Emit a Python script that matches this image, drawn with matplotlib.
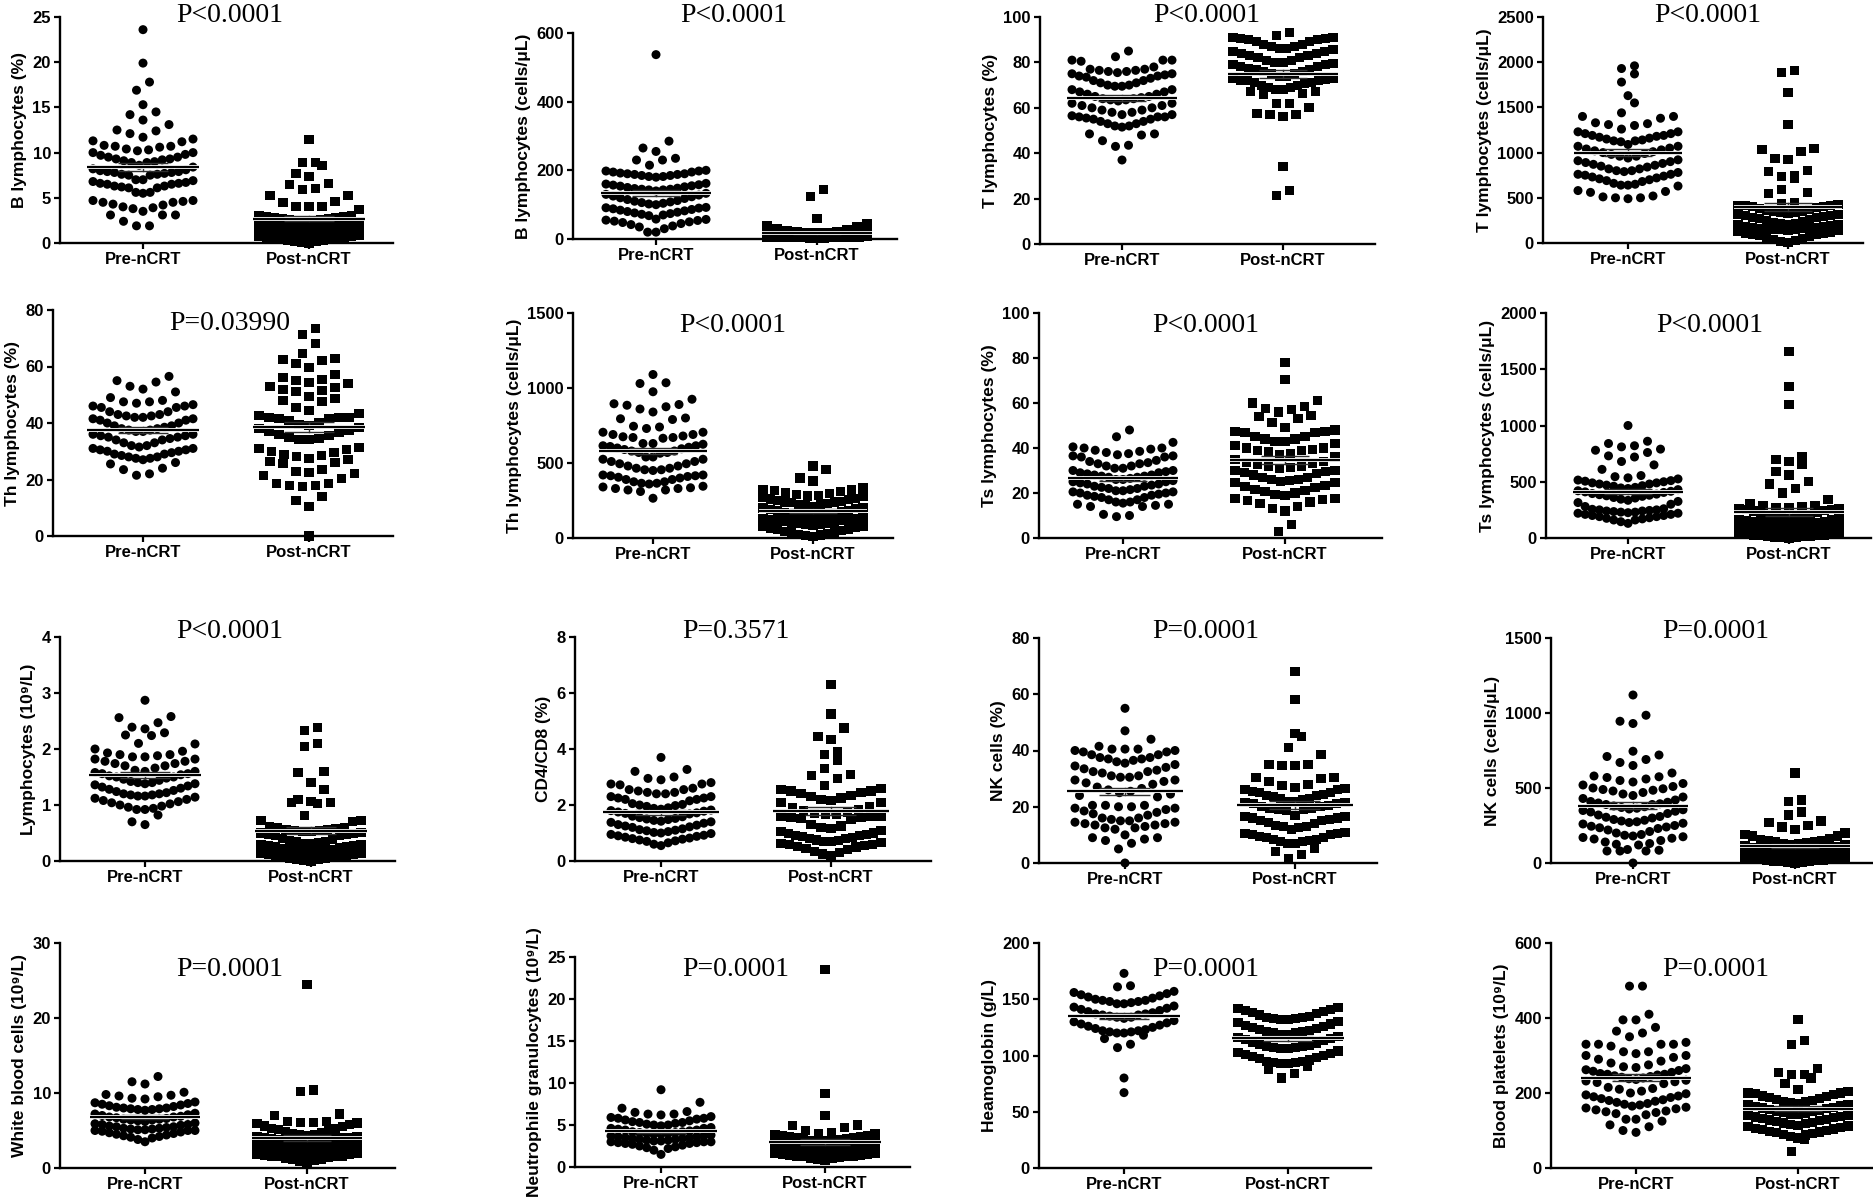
import numpy as np
import matplotlib
matplotlib.use("Agg")
import matplotlib.pyplot as plt
import matplotlib.patheffects as pe
from matplotlib.ticker import FormatStrFormatter

plt.rcParams['font.family'] = ['Liberation Sans', 'DejaVu Sans']
plt.rcParams['font.weight'] = 'bold'

groups = ['Pre-nCRT', 'Post-nCRT']

# ---- values (one list per group) ----
b_pct_pre = [23.6, 19.9, 17.8, 16.9, 15.3, 14.5, 14.2, 13.6, 13.1, 12.5, 12.4, 12.1,
             11.7, 11.5, 11.3, 11.2, 10.8, 10.7, 10.7, 10.6, 10.4, 10.3,
             10.2, 10.0, 10.0, 9.8, 9.7, 9.5, 9.5, 9.3, 9.3, 9.2, 9.1, 9.0, 8.9, 8.9,
             8.6, 8.4, 8.2, 8.1, 8.0, 7.9, 7.9, 7.8, 7.8, 7.7, 7.6, 7.6, 7.5, 7.5,
             7.0, 7.0, 6.9, 6.8, 6.7, 6.6, 6.6, 6.5, 6.5, 6.3, 6.3, 6.2, 6.1, 6.1,
             5.6, 5.6, 5.5, 4.7, 4.7, 4.6, 4.5, 4.5, 4.3, 4.2, 4.0, 3.9, 3.8, 3.5,
             3.1, 3.1, 3.1, 2.4, 1.9, 1.9]
b_pct_post = [11.4, 8.9, 8.9, 8.6, 7.7, 7.4, 6.6, 6.5, 6.0, 5.9, 5.3, 5.2, 4.6, 4.5, 4.0, 4.0, 4.0, 3.7,
              3.0, 3.0, 2.9, 2.9, 2.8, 2.8, 2.7, 2.7, 2.6, 2.6, 2.5, 2.5, 2.4, 2.4, 2.3, 2.3, 2.2,
              1.9, 1.9, 1.8, 1.8, 1.7, 1.7, 1.6, 1.6, 1.5, 1.5, 1.4, 1.3, 1.2, 1.1, 1.0, 1.0,
              0.9, 0.9, 0.8, 0.8, 0.7, 0.7, 0.6, 0.6, 0.5, 0.5, 0.4, 0.3, 0.2, 0.1, 0.0,
              2.1, 2.0, 2.0, 1.9, 1.2, 1.1, 0.9, 0.5, 0.3, 0.2]

b_abs_pre = [537, 285, 265, 255, 235, 230, 230, 215,
             200, 198, 198, 195, 195, 192, 190, 190, 188, 188, 185, 185, 182, 182, 180,
             162, 160, 158, 157, 155, 154, 152, 150, 148, 147, 145, 145, 143, 143, 140,
             133, 130, 128, 125, 123, 120, 118, 115, 112, 110, 108, 106, 104, 102, 100,
             92, 91, 90, 88, 86, 84, 82, 80, 78, 76, 74, 72, 70, 68,
             58, 57, 55, 54, 52, 50, 48, 45, 42, 38, 35, 30, 20, 20]
b_abs_post = [143, 125, 60, 45, 40, 35, 30, 28, 25,
              22, 21, 20, 20, 19, 19, 18, 18, 17, 17, 16, 16, 15, 15, 15,
              14, 14, 13, 13, 13, 12, 12, 12, 11, 11, 11, 10, 10, 10, 10,
              9, 9, 9, 9, 8, 8, 8, 8, 7, 7, 7, 7, 6, 6, 6,
              6, 5, 5, 5, 5, 4, 4, 4, 4, 3, 3, 3, 2, 2, 1,
              12, 10, 9, 8, 6]

t_pct_pre = [85, 82.5, 81, 81, 81, 80.5, 78, 77, 77, 76.5, 76.5, 76, 76, 75.5,
             75, 75, 74.5, 74, 74, 73.5, 73, 72, 72, 71, 71, 70, 70, 69.5, 69.5,
             68, 68, 67, 67, 66, 66, 65, 65, 64.5, 64, 64, 63.5, 63.5, 63,
             62, 62, 61, 61, 60, 60, 59, 59, 58, 58, 57, 57, 56.5, 56,
             56, 56, 55.5, 55, 55, 54, 54, 53, 53, 52, 52, 51.5,
             48.5, 48.5, 48, 45.5, 43.5, 43, 37]
t_pct_post = [93, 92,
              91, 91, 90.5, 90.5, 90, 90, 89, 89, 88, 88, 87, 87, 86, 86, 85.5,
              85, 85, 84, 84, 83, 83, 82, 82, 81, 81, 80, 80, 79.5, 79, 79,
              78, 78, 77.5, 77, 77, 76, 76, 75, 75, 74, 74, 73, 73, 72.5, 72,
              72, 72, 71, 71, 70.5, 70, 70, 69, 69, 68, 68, 67, 67, 66.5, 66,
              62, 62, 60, 57.5, 57, 57, 56, 34, 23.5, 21.5]

t_abs_pre = [1960, 1930, 1870, 1780, 1630, 1550,
             1440, 1400, 1400, 1380, 1330, 1320, 1310, 1300,
             1260, 1230, 1230, 1210, 1210, 1190, 1190, 1180, 1170, 1160, 1150, 1140, 1130, 1130, 1120,
             1090, 1070, 1070, 1050, 1040, 1030, 1020, 1010, 1000, 990, 980, 960, 960, 940,
             920, 910, 900, 890, 880, 870, 860, 850, 840, 820, 820, 800, 800, 790,
             780, 760, 760, 750, 740, 730, 720, 710, 700, 690, 680, 660, 650, 640, 630,
             640, 580, 570, 560, 520, 510, 500, 500, 490]
t_abs_post = [1910, 1890, 1660, 1310, 1050, 1030, 1010, 940, 920, 800, 790, 750, 740, 710, 590, 560, 550,
              450, 440, 430, 420, 410, 400, 390, 380, 370, 360, 350, 345, 340, 335, 330,
              320, 310, 300, 290, 280, 270, 260, 250, 240, 230, 220, 215, 210, 205, 200,
              190, 185, 180, 175, 170, 165, 160, 155, 150, 145, 140, 135, 130, 120, 110,
              100, 95, 90, 80, 70, 60, 50, 40, 30, 20, 10,
              420, 400, 300, 280, 160, 150]

th_pct_pre = [56.5, 55, 54.5, 53, 52, 51, 49, 48, 47.5, 47.5,
              47, 46.5, 46, 46, 45.5, 45.5, 44, 44, 43, 43, 42.5, 42.5, 42, 42, 41.5,
              41.5, 41, 41, 40, 40, 39, 39, 38.5, 38, 38, 37.5, 37.5, 37, 37,
              36, 36, 35.5, 35.5, 35, 35, 34.5, 34, 34, 33, 33, 32, 32, 31.5, 31,
              31, 30.5, 30.5, 30, 30, 29.5, 29, 29, 28.5, 28, 28, 27.5, 27.5, 27,
              26, 25.5, 24, 23.5, 22, 21.5]
th_pct_post = [73.5, 71.5, 68, 64.5, 63, 62.5, 62, 61, 59.5,
               57, 56, 55.5, 55, 54.5, 54, 53, 52.5, 52, 51.5, 51,
               49.5, 48.5, 48, 47.5, 45.5, 44.5, 43.5,
               42.5, 42, 42, 42, 41.5, 41.5, 41, 40, 39.5, 39, 38.5, 38, 37.5, 37,
               36.5, 36, 35.5, 35, 34.5, 34, 34,
               31.5, 31, 30.5, 30, 29.5, 29, 28.5, 28, 27.5, 27, 26.5, 26,
               25.5, 23.5, 23, 22.5, 22, 21.5, 20.5,
               18.5, 18.5, 18, 18, 17.5, 14, 12.5, 10.5, 0]

th_abs_pre = [1090, 1035, 1030, 975, 925, 895, 890, 885, 875, 860, 840, 800, 795, 790,
              745, 740, 730, 705, 705, 690, 690, 680, 675, 670, 670, 665,
              630, 630, 625, 615, 615, 610, 605, 600, 595, 590, 580, 580, 570, 570, 565,
              540, 540, 525, 525, 510, 510, 495, 495, 480, 480, 465, 465, 455, 455, 450,
              420, 420, 415, 415, 410, 405, 400, 390, 390, 375, 375, 365, 365, 360,
              345, 340, 335, 330, 330, 320, 320, 310, 265]
th_abs_post = [480, 455, 400, 380, 335, 325, 320, 315, 310,
               300, 295, 290, 285, 280, 275, 270, 265, 260, 255, 250, 245, 240, 240, 235,
               230, 225, 220, 215, 210, 205, 200, 195, 190, 185, 180, 175, 170, 165, 160,
               155, 150, 148, 145, 140, 135, 130, 128, 125, 120, 118, 115, 110, 105, 100,
               98, 95, 92, 90, 85, 80, 75, 70, 65, 60, 55, 50, 45, 40, 35,
               30, 25, 20, 15, 10]

ts_pct_pre = [48, 45,
              42.5, 40.5, 40, 40, 39.5, 39, 38.5, 38, 37.5, 37, 36.5, 36.5, 36, 36,
              34.5, 34, 33.5, 33, 33, 32, 32, 31, 31, 30, 30, 29.5, 29, 29, 28.5,
              28, 28, 27.5, 27.5, 27, 27, 26.5, 26, 26, 25.5, 25, 25, 24.5, 24, 24,
              23.5, 23, 23, 22.5, 22, 22, 21.5, 21, 21, 20.5, 20.5, 20, 20, 19.5,
              19, 19, 18.5, 18, 18, 17, 17, 16, 16, 15.5,
              15, 15, 14.5, 14, 14, 10.5, 10, 9.5]
ts_pct_post = [78, 70.5, 61, 60, 58.5, 57.5, 57, 56, 54.5, 54, 53,
               51.5, 49, 48, 47.5, 47, 47, 47.5,
               45, 45, 44, 44, 43, 43, 42, 41, 40, 40, 39.5, 39, 39,
               38.5, 37.5, 37, 36, 35, 34, 33.5, 33, 32.5, 32, 32, 31.5, 31,
               30, 30, 29.5, 29, 28.5, 28, 27, 27, 26, 26, 25.5, 25,
               24.5, 24.5, 23.5, 23, 22.5, 21.5, 21, 20.5, 20, 19.5, 19,
               17.5, 17.5, 17, 16.5, 16, 15.5, 14, 13, 12, 6, 3]

ts_abs_pre = [1000, 860, 840, 820, 810, 790, 780, 760, 730, 720, 680, 650, 610,
              555, 545, 535, 525, 515, 505, 500, 510,
              490, 490, 480, 480, 470, 465, 460, 450, 445, 440, 430, 420, 415, 410, 405,
              395, 390, 385, 380, 375, 370, 360, 355, 345, 335, 325, 315, 300, 280, 260,
              255, 250, 245, 240, 235, 230, 225, 220, 210, 200, 190, 175, 160, 145, 130,
              250, 240, 230, 220, 210, 200, 190, 180, 170, 160]
ts_abs_post = [1660, 1350, 1190, 720, 700, 680, 650, 590, 560, 500, 480, 440, 400, 340, 310,
               290, 285, 280, 275, 270, 265, 260, 255, 250, 245, 240, 230, 220, 210, 200,
               195, 190, 185, 180, 175, 170, 165, 160, 155, 150, 145, 140, 135, 130, 125,
               120, 115, 110, 105, 100, 95, 90, 85, 80, 75, 70, 65, 60, 55, 50,
               48, 45, 42, 40, 38, 35, 32, 30, 28, 25, 22, 20, 18, 15, 12, 10, 8, 5, 3, 0]

lym_pre = [2.87, 2.58, 2.56, 2.47, 2.39, 2.36, 2.29, 2.25, 2.24, 2.1, 2.09, 2.0, 1.96,
           1.93, 1.9, 1.9, 1.88, 1.86, 1.86, 1.82, 1.82, 1.78, 1.78, 1.74, 1.74, 1.7, 1.7, 1.66,
           1.62, 1.6, 1.6, 1.58, 1.56, 1.56, 1.54, 1.52, 1.5, 1.5, 1.48, 1.46, 1.44, 1.42, 1.4,
           1.4, 1.38, 1.38, 1.36, 1.34, 1.32, 1.3, 1.28, 1.26, 1.24, 1.22, 1.2, 1.2, 1.18, 1.16,
           1.18, 1.16, 1.14, 1.12, 1.1, 1.08, 1.06, 1.04, 1.02, 1.0, 0.98, 0.96, 0.94, 0.92, 0.92,
           0.82, 0.7, 0.65]
lym_post = [2.38, 2.33, 2.1, 2.05, 1.6, 1.58, 1.4, 1.28, 1.1, 1.07, 1.05, 1.05, 1.02, 0.82, 0.72,
            0.7, 0.72, 0.62, 0.6,
            0.6, 0.58, 0.57, 0.56, 0.55, 0.54, 0.53, 0.52, 0.51, 0.5, 0.49, 0.48, 0.47, 0.46, 0.45,
            0.4, 0.38, 0.36, 0.35, 0.34, 0.33, 0.32, 0.31, 0.3, 0.29, 0.28, 0.27, 0.26, 0.25, 0.24,
            0.22, 0.21, 0.2, 0.19, 0.18, 0.17, 0.16, 0.15, 0.14, 0.13, 0.12, 0.11, 0.1, 0.09, 0.08,
            0.07, 0.06, 0.05, 0.04, 0.03, 0.02, 0.01, 0.0]

cd_pre = [3.7, 3.27, 3.2, 3.0, 2.95, 2.9, 2.8, 2.75, 2.75, 2.72,
          2.6, 2.55, 2.55, 2.5, 2.45, 2.45, 2.4, 2.4, 2.3, 2.3, 2.25, 2.25, 2.2, 2.2, 2.15,
          2.05, 2.02, 2.0, 1.98, 1.95, 1.9, 1.88, 1.85, 1.82, 1.8, 1.78, 1.75, 1.72, 1.7, 1.68,
          1.6, 1.58, 1.55, 1.52, 1.5, 1.48, 1.45, 1.42, 1.4, 1.38, 1.35, 1.3, 1.28, 1.25, 1.22,
          1.2, 1.15, 1.12, 1.1, 1.08, 1.05, 1.02, 1.0, 0.98, 0.95,
          0.92, 0.9, 0.88, 0.85, 0.82, 0.8, 0.78, 0.75, 0.72, 0.7, 0.65, 0.6, 0.55]
cd_post = [6.3, 5.25, 4.75, 4.45, 4.35, 3.9, 3.8, 3.6, 3.3, 3.1, 3.05, 2.95, 2.7,
           2.6, 2.55, 2.5, 2.5, 2.45, 2.4, 2.35, 2.3, 2.25, 2.2, 2.15, 2.1, 2.1,
           1.95, 1.9, 1.85, 1.8, 1.75, 1.7, 1.65, 1.65, 1.6, 1.6, 1.58, 1.55, 1.55, 1.52, 1.5,
           1.3, 1.25, 1.2, 1.15, 1.1, 1.05, 1.0, 0.98, 0.95, 0.92, 0.9, 0.88, 0.85, 0.82, 0.8,
           0.75, 0.72, 0.7, 0.68, 0.65, 0.62, 0.6, 0.58, 0.55, 0.52, 0.5, 0.45, 0.4, 0.35, 0.3,
           0.25, 0.2]

nk_pct_pre = [55, 47, 44,
              41.5, 40.5, 40.5, 40.5, 40, 40, 39.5, 39.5, 38.5, 38.5, 37.5, 37.5, 37, 37,
              36.5, 36, 35.5, 35, 34.5, 34, 33.5, 33, 32.5, 32.5, 32,
              31, 31, 30.5, 30.5, 29.5, 29.5, 29, 28.5, 28, 27, 26.5,
              26, 25.5, 25, 24.5, 24, 23.5,
              20.5, 20.5, 20.5, 20, 20, 19.5, 19.5, 19, 18.5, 18, 17.5, 17, 16, 16, 15.5,
              15, 15, 14.5, 14.5, 14, 14, 13.5, 13.5, 13, 12.5, 12.5, 12,
              10, 9, 9, 8.5, 8, 7, 5, 0]
nk_pct_post = [68, 58, 46, 45, 41, 38.5, 35, 35, 34.5, 34.5, 30.5, 30.5, 30, 29,
               28, 27.5, 27, 26.5, 26, 26, 25.5, 25, 25, 24.5, 24, 24, 23.5, 23, 23,
               22.5, 22, 22, 21.5, 21.5, 21, 21, 20.5, 20, 20, 19.5, 19.5, 19, 19, 18.5,
               17, 16.5, 16.5, 16, 16, 15.5, 15, 15, 14.5, 14, 13.5, 13, 13, 12.5, 12,
               11, 10.5, 10.5, 10, 10, 9.5, 9, 9, 8.5, 8.5, 8, 7.5, 7.5, 7, 7,
               5, 4, 3, 1.5]

nk_abs_pre = [1120, 985, 945, 930, 745, 720, 710, 690, 670, 650, 600,
              580, 575, 570, 560, 550, 540, 530, 520, 510, 500, 495, 490, 485, 480,
              470, 460, 450, 440, 430, 420, 410, 405, 400, 395, 390, 390,
              380, 375, 370, 365, 360, 355, 350, 345, 340, 330, 320, 310, 305, 300,
              290, 285, 280, 275, 270, 265, 260, 250, 245, 240, 235, 230, 220, 210, 200,
              190, 185, 180, 175, 170, 165, 160, 150, 140, 130, 125, 120,
              90, 85, 80, 80, 80, 0]
nk_abs_post = [600, 420, 410, 340, 320, 280, 270, 250, 240, 225, 200, 190, 180, 180,
               160, 155, 150, 148, 145, 140, 135, 130, 128, 125, 120, 115, 110, 105, 100,
               98, 95, 92, 90, 88, 85, 82, 80, 78, 75, 72, 70, 68, 65, 62,
               60, 58, 55, 52, 50, 48, 45, 42, 40, 38, 35, 32, 30, 28, 25,
               22, 20, 18, 15, 12, 10, 8, 5, 3, 0]

wbc_pre = [12.2, 11.5, 11.2, 10.1, 9.8, 9.7, 9.6, 9.5, 9.3, 9.2,
           8.8, 8.7, 8.6, 8.5, 8.4, 8.3, 8.2, 8.1, 8.0, 8.0, 7.9, 7.9, 7.8, 7.8, 7.7,
           7.3, 7.2, 7.1, 7.0, 6.9, 6.8, 6.8, 6.7, 6.6, 6.5, 6.5, 6.4, 6.4, 6.3, 6.2,
           6.0, 5.9, 5.8, 5.8, 5.7, 5.6, 5.5, 5.5, 5.4, 5.3, 5.3, 5.2, 5.1, 5.0, 5.0,
           5.2, 5.1, 5.0, 4.9, 4.8, 4.7, 4.6, 4.5, 4.4, 4.3, 4.2, 4.1, 4.0, 3.8, 3.5]
wbc_post = [24.5, 10.4, 10.2, 7.2, 7.0,
            6.2, 6.2, 6.1, 6.1, 6.0, 5.9, 5.8, 5.6, 5.5, 5.3, 5.2, 5.1, 5.0,
            4.8, 4.7, 4.6, 4.5, 4.4, 4.3, 4.2, 4.2, 4.1, 4.0, 4.0, 3.9, 3.9, 3.8, 3.8,
            3.6, 3.5, 3.4, 3.3, 3.2, 3.1, 3.0, 3.0, 2.9, 2.9, 2.8, 2.8, 2.7, 2.7, 2.6,
            2.5, 2.4, 2.3, 2.2, 2.1, 2.0, 1.9, 1.8, 1.8, 1.7, 1.6, 1.6, 1.5, 1.5,
            1.4, 1.3, 1.2, 1.1, 1.0, 0.9, 0.8]

neu_pre = [9.2, 7.7, 7.0, 6.6, 6.5, 6.3, 6.3, 6.2,
           6.0, 5.9, 5.8, 5.8, 5.7, 5.6, 5.5, 5.4, 5.3, 5.3, 5.2, 5.1, 5.0, 5.0, 4.9,
           4.7, 4.6, 4.6, 4.5, 4.4, 4.4, 4.3, 4.2, 4.2, 4.1, 4.1, 4.0, 4.0, 3.9, 3.9,
           3.8, 3.7, 3.7, 3.6, 3.6, 3.5, 3.5, 3.4, 3.4, 3.3, 3.3, 3.2, 3.2, 3.1, 3.1,
           3.0, 3.0, 3.0, 2.9, 2.9, 2.8, 2.8, 2.7, 2.6, 2.5, 2.4, 2.3, 2.2, 2.0, 1.5]
neu_post = [23.5, 8.7, 6.1, 5.0, 4.9, 4.7, 4.3, 4.1, 4.0, 4.0, 3.9,
            3.8, 3.7, 3.6, 3.6, 3.5, 3.5, 3.4, 3.3, 3.3, 3.2, 3.2, 3.1, 3.1, 3.0, 3.0,
            2.9, 2.9, 2.8, 2.8, 2.7, 2.7, 2.6, 2.6, 2.5, 2.5, 2.4, 2.4, 2.3, 2.3, 2.3,
            2.2, 2.2, 2.1, 2.1, 2.0, 2.0, 1.9, 1.9, 1.8, 1.8, 1.7, 1.7, 1.6, 1.6, 1.6,
            1.5, 1.5, 1.4, 1.4, 1.3, 1.3, 1.2, 1.2, 1.1, 1.0, 1.0, 0.9, 0.8]

hb_pre = [173, 162, 161,
          157, 156, 155, 154, 153, 152, 151, 150, 149, 149, 148, 148, 147, 146, 146,
          144, 143, 142, 141, 140, 139, 138, 137, 137, 136, 136, 135, 134, 134, 133,
          131, 130, 129, 128, 127, 126, 125, 124, 123, 122, 122, 121, 121, 120, 120,
          118, 115, 110, 107, 80, 67]
hb_post = [143, 142, 141, 140, 139, 138, 137, 136, 135, 134, 134, 133, 133, 132, 132,
           130, 129, 128, 127, 126, 125, 124, 123, 122, 121, 121, 120, 120, 119, 119,
           117, 116, 115, 114, 113, 112, 111, 110, 109, 108, 108, 107, 107, 106, 106,
           104, 103, 102, 101, 100, 99, 98, 97, 96, 95, 95, 94, 94, 93, 93,
           90, 88, 84, 80]

plt_pre = [485, 485,
           410, 395, 395, 375, 365, 360, 350, 335, 330, 330, 330, 330, 325, 310, 310, 305, 300, 300, 295,
           290, 285, 280, 275, 270, 268, 265, 262, 260, 258, 255, 252, 250, 250,
           248, 246, 244, 242, 240, 238, 236, 234, 232, 230, 228, 225,
           215, 212, 210, 205, 200, 198, 195, 192, 190, 188, 185, 182, 180, 178,
           175, 172, 170, 168, 165, 162, 160, 158, 155, 152, 150, 148, 145, 142,
           130, 125, 115, 110, 100, 95, 130]
plt_post = [395, 340, 330, 265, 255, 250, 250, 240, 225, 210, 205, 200,
            200, 198, 195, 192, 190, 188, 185, 182, 180, 178, 176, 174, 172, 170, 168,
            166, 164, 162, 160, 158, 156, 154, 152, 150, 148, 146, 144, 142, 140, 140,
            138, 136, 134, 132, 130, 128, 126, 124, 122, 120, 118, 116, 114, 112, 110,
            108, 106, 104, 102, 100, 98, 96, 94, 92, 90, 88, 85,
            80, 75, 45]

ylabels = ['B lymphocytes (%)', 'B lymphocytes (cells/μL)', 'T lymphocytes (%)',
           'T lymphocytes (cells/μL)', 'Th lymphocytes (%)', 'Th lymphocytes (cells/μL)',
           'Ts lymphocytes (%)', 'Ts lymphocytes (cells/μL)', 'Lymphocytes (10⁹/L)',
           'CD4/CD8 (%)', 'NK cells (%)', 'NK cells (cells/μL)', 'White blood cells (10⁹/L)',
           'Neutrophile granulocytes (10⁹/L)', 'Heamoglobin (g/L)', 'Blood platelets (10⁹/L)']
ptexts = ['P<0.0001', 'P<0.0001', 'P<0.0001', 'P<0.0001',
          'P=0.03990', 'P<0.0001', 'P<0.0001', 'P<0.0001',
          'P<0.0001', 'P=0.3571', 'P=0.0001', 'P=0.0001',
          'P=0.0001', 'P=0.0001', 'P=0.0001', 'P=0.0001']
yrange = [(25, 5), (600, 200), (100, 20), (2500, 500),
          (80, 20), (1500, 500), (100, 20), (2000, 500),
          (4, 1), (8, 2), (80, 20), (1500, 500),
          (30, 10), (25, 5), (200, 50), (600, 200)]
series = [(b_pct_pre, b_pct_post), (b_abs_pre, b_abs_post), (t_pct_pre, t_pct_post),
          (t_abs_pre, t_abs_post), (th_pct_pre, th_pct_post), (th_abs_pre, th_abs_post),
          (ts_pct_pre, ts_pct_post), (ts_abs_pre, ts_abs_post), (lym_pre, lym_post),
          (cd_pre, cd_post), (nk_pct_pre, nk_pct_post), (nk_abs_pre, nk_abs_post),
          (wbc_pre, wbc_post), (neu_pre, neu_post), (hb_pre, hb_post), (plt_pre, plt_post)]

# panel boxes in pixels: y-axis x, x-axis end, y of 0, y of top tick, Pre x, Post x
boxes = [(60, 393, 243, 17, 143, 309), (573, 897, 239, 33, 656, 817),
         (1040, 1375, 244, 17, 1122, 1283), (1543, 1863, 243, 17, 1628, 1788),
         (53, 393, 536, 310, 143, 309), (573, 893, 538, 313, 653, 813),
         (1039, 1382, 538, 313, 1123, 1285), (1546, 1871, 538, 313, 1628, 1789),
         (60, 395, 861, 637, 145, 311), (575, 931, 861, 637, 661, 831),
         (1039, 1377, 863, 638, 1125, 1295), (1551, 1874, 863, 638, 1633, 1795),
         (60, 395, 1168, 943, 145, 307), (575, 910, 1167, 957, 661, 825),
         (1039, 1371, 1168, 943, 1124, 1288), (1551, 1874, 1168, 943, 1636, 1798)]
ppos = [(230, 15), (734, 15), (1207, 15), (1708, 15),
        (230, 323), (733, 325), (1206, 325), (1710, 325),
        (230, 632), (736, 632), (1206, 632), (1716, 632),
        (230, 970), (736, 970), (1206, 970), (1716, 970)]

W, H = 1874, 1198


def swarm(vals, h, maxn, wide, full):
    v = np.sort(np.asarray(vals, dtype=float))
    xs = np.zeros(len(v))
    rows, cur = [], []
    for i, val in enumerate(v):
        if cur and (val - v[cur[0]] >= h or len(cur) >= maxn):
            rows.append(cur)
            cur = []
        cur.append(i)
    rows.append(cur)
    for r in rows:
        n = len(r)
        sp = wide if n < 2 else min(wide, full / (n - 1))
        for k, idx in enumerate(r):
            if n % 2 == 1:
                off = 0 if k == 0 else ((k + 1) // 2) * (-1 if k % 2 == 1 else 1)
            else:
                off = (k // 2 + 0.5) * (-1 if k % 2 == 0 else 1)
            xs[idx] = off * sp
    return v, xs


fig = plt.figure(figsize=(W / 100, H / 100), dpi=100)
halo = [pe.withStroke(linewidth=2.8, foreground='white')]

for i in range(16):
    axl, axr, y0, yt, xp, xq = boxes[i]
    ymax, ystep = yrange[i]
    ax = fig.add_axes([axl / W, 1 - y0 / H, (axr - axl) / W, (y0 - yt) / H])
    u = xq - xp
    ax.set_xlim(-(xp - axl) / u, 1 + (axr - xq) / u)
    ax.set_ylim(0, ymax)
    h = 13 * ymax / (y0 - yt)
    for g, mk in enumerate(['o', 's']):
        vals = series[i][g]
        v, dx = swarm(vals, h, 15, 13 / u, 100 / u)
        ax.scatter(g + dx, v, s=42, marker=mk, c='black', edgecolors='none',
                   clip_on=False, zorder=3)
        m = np.mean(vals)
        se = np.std(vals, ddof=1) / np.sqrt(len(vals))
        ax.plot([g - 0.34, g + 0.34], [m, m], color='black', lw=1.6, zorder=5,
                path_effects=halo, solid_capstyle='butt')
        for e in (m - se, m + se):
            ax.plot([g - 0.15, g + 0.15], [e, e], color='#303030', lw=1.0, zorder=4,
                    solid_capstyle='butt')
        ax.plot([g, g], [m - se, m + se], color='#303030', lw=1.0, zorder=4)

    for s in ['top', 'right']:
        ax.spines[s].set_visible(False)
    for s in ['left', 'bottom']:
        ax.spines[s].set_linewidth(1.7)
    ax.set_xticks([0, 1])
    ax.set_xticklabels(groups, fontsize=12.5, fontweight='bold')
    ax.set_yticks(np.arange(0, ymax + ystep / 2, ystep))
    ax.yaxis.set_major_formatter(FormatStrFormatter('%g'))
    ax.tick_params(axis='both', width=1.6, length=4.5, labelsize=12, pad=2)
    for lab in ax.get_yticklabels():
        lab.set_fontweight('bold')
    ax.set_ylabel(ylabels[i], fontsize=12.5, fontweight='bold', labelpad=4)
    px, py = ppos[i]
    fig.text(px / W, 1 - py / H, ptexts[i], family='Liberation Serif',
             fontsize=20, fontweight='normal', ha='center', va='center')

fig.savefig('out.png', dpi=100)
